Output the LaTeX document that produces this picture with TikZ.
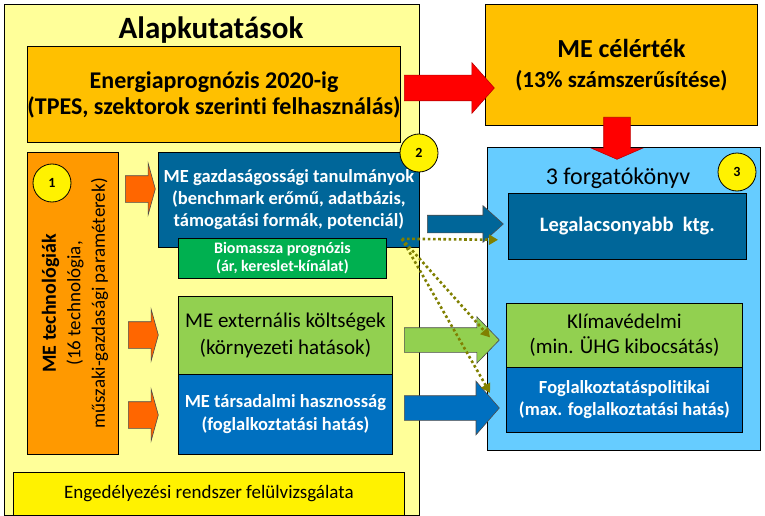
\documentclass[tikz,border=0pt]{standalone}
\usepackage{fontspec}
\setmainfont[Ligatures={TeX,NoCommon}]{Carlito}
\usepackage{tikz}
\usetikzlibrary{arrows.meta,positioning,calc,shapes.arrows}
\definecolor{paleyellow}{HTML}{FFFF99}
\definecolor{megold}{HTML}{FFC000}
\definecolor{medark}{HTML}{006699}
\definecolor{meblue}{HTML}{0070C0}
\definecolor{megreen}{HTML}{00B050}
\definecolor{melight}{HTML}{92D050}
\definecolor{mesky}{HTML}{66CCFF}
\definecolor{meorange}{HTML}{FF9900}
\definecolor{mearrow}{HTML}{FF6600}
\definecolor{dotolive}{HTML}{808000}
\tikzset{
  % dobozok
  box/.style={rectangle,draw=black,line width=0.8pt,inner sep=0pt,align=center,
              anchor=north west},
  num/.style={circle,draw=black,line width=0.8pt,fill=yellow,minimum size=38pt,
              inner sep=0pt,font=\fontsize{14}{16}\selectfont\bfseries},
  % nyilak
  blk/.style={single arrow,draw=black!70,line width=0.6pt,inner xsep=0pt,anchor=tail},
  redblk/.style={blk,fill=red,draw=red!75!black},
  smallblk/.style={blk,fill=mearrow,minimum height=30pt,inner ysep=13pt,
              single arrow head extend=12.5pt,single arrow tip angle=149},
  dotarr/.style={-{Triangle[length=9pt,width=10pt]},draw=dotolive,line width=2.6pt,
              dash pattern=on 2.6pt off 2.6pt},
}
\begin{document}
\begin{tikzpicture}[x=1pt,y=-1pt]
  \useasboundingbox[fill=white] (0,0) rectangle (765,516);
  % alapkutatások
  \node[box,fill=paleyellow,minimum width=415pt,minimum height=511pt] (alap) at (4,4) {};
  \node[font=\fontsize{31}{36}\selectfont\bfseries] (alapt) at (211,30) {Alapkutatások};
  \node[box,fill=megold,minimum width=370pt,minimum height=96pt,
        font=\fontsize{24}{26}\selectfont\bfseries] (energia) at (27,46)
        {Energiaprognózis 2020-ig\\(TPES, szektorok szerinti felhasználás)};
  \node[box,fill=meorange,minimum width=91pt,minimum height=302pt] (tech) at (27,152) {};
  \node[rotate=90,align=center,font=\fontsize{19}{24.5}\selectfont] (techt)
        at ([xshift=2pt]tech.center)
        {{\fontsize{20}{24.5}\selectfont\bfseries ME technológiák}\\(16 technológia,\\műszaki-gazdasági paraméterek)};
  \node[box,fill=medark,text=white,minimum width=261pt,minimum height=95pt,
        font=\fontsize{18.5}{22}\selectfont\bfseries] (gazd) at (158,152)
        {ME gazdaságossági tanulmányok\\(benchmark erőmű, adatbázis,\\támogatási formák, potenciál)};
  \node[box,fill=megreen,text=white,minimum width=208pt,minimum height=40pt,
        font=\fontsize{16}{18}\selectfont\bfseries] (bio) at (178,238)
        {Biomassza prognózis\\(ár, kereslet-kínálat)};
  \node[box,fill=melight,minimum width=214pt,minimum height=78pt,
        font=\fontsize{21}{27}\selectfont] (ext) at (178,296)
        {ME externális költségek\\(környezeti hatások)};
  \node[box,fill=meblue,text=white,minimum width=214pt,minimum height=80pt,
        font=\fontsize{18.5}{23}\selectfont\bfseries] (tars) at (178,374)
        {ME társadalmi hasznosság\\(foglalkoztatási hatás)};
  \node[box,fill=yellow,minimum width=391pt,minimum height=43pt,
        font=\fontsize{19}{22}\selectfont] (eng) at (13,472)
        {Engedélyezési rendszer felülvizsgálata};
  % célérték és forgatókönyvek
  \node[box,fill=megold,minimum width=272pt,minimum height=121pt,
        font=\fontsize{23}{30}\selectfont\bfseries] (cel) at (485,4)
        {{\fontsize{26}{30}\selectfont ME célérték}\\(13\% számszerűsítése)};
  \node[box,fill=mesky,minimum width=273pt,minimum height=303pt] (forg) at (487,147) {};
  \node[font=\fontsize{24}{28}\selectfont] (forgt) at (618,178) {3 forgatókönyv};
  \node[box,fill=medark,text=white,minimum width=238pt,minimum height=66pt,
        font=\fontsize{20.5}{24}\selectfont\bfseries] (legal) at (508,193)
        {Legalacsonyabb\ \ ktg.};
  \node[box,fill=melight,minimum width=236pt,minimum height=64pt,
        font=\fontsize{21}{25}\selectfont] (klima) at (506,303)
        {Klímavédelmi\\(min. ÜHG kibocsátás)};
  \node[box,fill=meblue,text=white,minimum width=236pt,minimum height=65pt,
        font=\fontsize{18.5}{22}\selectfont\bfseries] (fogl) at (506,367)
        {Foglalkoztatáspolitikai\\(max. foglalkoztatási hatás)};
  % számok
  \node[num] (n1) at (52,183) {1};
  \node[num] (n2) at (419,153) {2};
  \node[num] (n3) at (737,172) {3};
  % nyilak
  \node[redblk,minimum height=90pt,inner ysep=12.5pt,single arrow head extend=12.5pt,
        single arrow tip angle=97] (enCel) at (404,88) {};
  \node[redblk,rotate=-90,minimum height=42pt,inner ysep=13pt,
        single arrow head extend=12pt,single arrow tip angle=133] (celForg) at (617,117) {};
  \node[smallblk] (techGazd) at (125,189) {};
  \node[smallblk] (techExt) at (128,335) {};
  \node[smallblk] (techTars) at (128,415) {};
  \node[blk,fill=medark,minimum height=76pt,inner ysep=8.5pt,single arrow head extend=9.5pt,
        single arrow tip angle=84] (gazdLegal) at (427,224) {};
  \node[blk,fill=melight,minimum height=95pt,inner ysep=12pt,single arrow head extend=11pt,
        single arrow tip angle=92] (extKlima) at (404,340) {};
  \node[blk,fill=meblue,minimum height=95pt,inner ysep=12pt,single arrow head extend=14.5pt,
        single arrow tip angle=98] (tarsFogl) at (404,408) {};
  \coordinate (dsrc) at ([xshift=-18pt,yshift=9pt]gazd.south east);
  \draw[dotarr] (dsrc) -- ([xshift=-10pt,yshift=20pt]legal.south west);
  \draw[dotarr] (dsrc) -- ([xshift=-16pt,yshift=-2pt]klima.west);
  \draw[dotarr] (dsrc) -- ([xshift=-16pt,yshift=7pt]fogl.west);
\end{tikzpicture}
\end{document}
